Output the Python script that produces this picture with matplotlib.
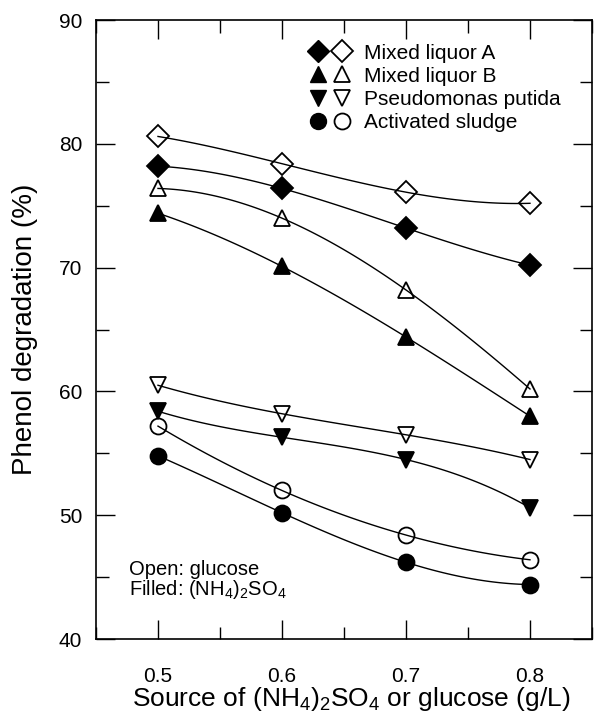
import numpy as np
import matplotlib
matplotlib.use("Agg")
import matplotlib.pyplot as plt
from matplotlib.lines import Line2D
from matplotlib.legend_handler import HandlerTuple
from matplotlib.ticker import MultipleLocator

plt.rcParams["font.family"] = "Liberation Sans"
plt.rcParams["mathtext.fontset"] = "custom"
plt.rcParams["mathtext.rm"] = "Liberation Sans"
plt.rcParams["mathtext.it"] = "Liberation Sans:italic"

conc = [0.5, 0.6, 0.7, 0.8]

labels = ["Mixed liquor A", "Mixed liquor B", "Pseudomonas putida", "Activated sludge"]

# filled = (NH4)2SO4, open = glucose
a_filled = [78.2, 76.4, 73.2, 70.2]
a_open = [80.6, 78.4, 76.1, 75.2]
b_filled = [74.4, 70.1, 64.4, 58.0]
b_open = [76.4, 74.0, 68.2, 60.2]
p_filled = [58.4, 56.3, 54.5, 50.6]
p_open = [60.5, 58.2, 56.5, 54.5]
s_filled = [54.8, 50.2, 46.2, 44.4]
s_open = [57.2, 52.0, 48.4, 46.4]

series = [
    (a_filled, a_open, "D"),
    (b_filled, b_open, "^"),
    (p_filled, p_open, "v"),
    (s_filled, s_open, "o"),
]

fig = plt.figure(figsize=(5.94, 7.18), dpi=100)
ax = fig.add_axes([0.1616, 0.110, 0.835, 0.862])

x = np.array(conc)
xs = np.linspace(x[0], x[-1], 100)
msize = {"D": 11, "^": 12, "v": 12, "o": 11.5}

handles = []
for filled, opened, m in series:
    for vals, face in ((filled, "black"), (opened, "none")):
        coef = np.polyfit(x, vals, 3)
        ax.plot(xs, np.polyval(coef, xs), color="black", lw=1.0, zorder=2)
        ax.plot(x, vals, linestyle="none", marker=m, markersize=msize[m],
                markerfacecolor=face, markeredgecolor="black",
                markeredgewidth=1.3, zorder=3)
    h_f = Line2D([], [], linestyle="none", marker=m, markersize=msize[m],
                 markerfacecolor="black", markeredgecolor="black")
    h_o = Line2D([], [], linestyle="none", marker=m, markersize=msize[m],
                 markerfacecolor="none", markeredgecolor="black",
                 markeredgewidth=1.3)
    handles.append((h_f, h_o))

ax.legend(handles, labels, handler_map={tuple: HandlerTuple(ndivide=None, pad=0.41)},
          loc="upper left", bbox_to_anchor=(0.431, 0.962), frameon=False,
          fontsize=15, handlelength=1.9, handletextpad=0.7, labelspacing=0.2,
          borderpad=0.0, borderaxespad=0.0)

ax.text(0.067, 0.071, "Open: glucose\n" + r"Filled: (NH$_4$)$_2$SO$_4$",
        transform=ax.transAxes, fontsize=14.5, va="baseline", linespacing=0.95)

ax.set_xlim(0.45, 0.85)
ax.set_ylim(40, 90)
ax.set_xticks(conc)
ax.xaxis.set_minor_locator(MultipleLocator(0.05))
ax.yaxis.set_major_locator(MultipleLocator(10))
ax.yaxis.set_minor_locator(MultipleLocator(5))
ax.tick_params(which="both", direction="in", top=True, right=True,
               labelsize=15, width=1.0)
ax.tick_params(axis="x", which="both", pad=20)
ax.tick_params(axis="y", which="both", pad=10)
ax.tick_params(which="major", length=14)
ax.tick_params(which="minor", length=9)
for s in ax.spines.values():
    s.set_linewidth(1.2)

ax.set_xlabel(r"Source of (NH$_4$)$_2$SO$_4$ or glucose (g/L)", fontsize=19)
ax.xaxis.set_label_coords(0.515, -0.074)
ax.set_ylabel("Phenol degradation (%)", fontsize=20, labelpad=15)

fig.savefig("out.png", dpi=100)
